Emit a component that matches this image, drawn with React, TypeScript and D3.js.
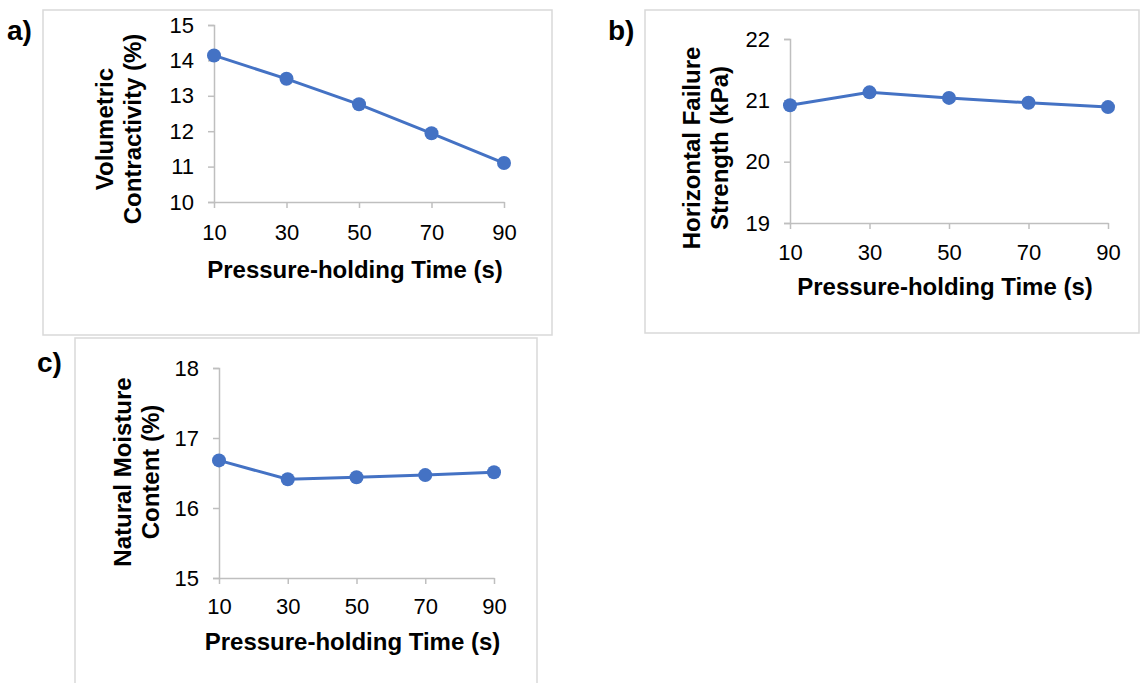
import React, { useRef, useEffect } from 'react'
import * as d3 from 'd3'

// Pressure-holding time categories (s)
const times = [10, 30, 50, 70, 90]

// Series
const contractivity = [14.14, 13.48, 12.76, 11.94, 11.1]
const failureStrength = [20.92, 21.13, 21.04, 20.96, 20.89]
const moistureContent = [16.68, 16.41, 16.44, 16.47, 16.51]

// Y tick labels for each panel
const contractivityTicks = [10, 11, 12, 13, 14, 15]
const failureTicks = [19, 20, 21, 22]
const moistureTicks = [15, 16, 17, 18]

const xTitle = 'Pressure-holding Time (s)'

const panels = [
    {
        tag: 'a)',
        values: contractivity,
        ticks: contractivityTicks,
        yTitle: ['Volumetric', 'Contractivity (%)'],
        border: { x: 43, y: 10, w: 509, h: 325 },
        plot: { x0: 214, x1: 504, y0: 25, y1: 202 },
        tagPos: { x: 7, y: 40 },
        yTitlePos: { x: 105, y: 129 },
        xTitleY: 278,
        tickY: 240,
    },
    {
        tag: 'b)',
        values: failureStrength,
        ticks: failureTicks,
        yTitle: ['Horizontal Failure', 'Strength (kPa)'],
        border: { x: 645, y: 10, w: 494, h: 323 },
        plot: { x0: 790, x1: 1108, y0: 39, y1: 223 },
        tagPos: { x: 608, y: 40 },
        yTitlePos: { x: 692, y: 148 },
        xTitleY: 295,
        tickY: 260,
    },
    {
        tag: 'c)',
        values: moistureContent,
        ticks: moistureTicks,
        yTitle: ['Natural Moisture', 'Content (%)'],
        border: { x: 75, y: 338, w: 462, h: 360 },
        plot: { x0: 219, x1: 494, y0: 368, y1: 578 },
        tagPos: { x: 37, y: 372 },
        yTitlePos: { x: 123, y: 472 },
        xTitleY: 650,
        tickY: 614,
    },
]

const FONT = '"Liberation Sans", Arial, sans-serif'
const BLUE = '#4472C4'
const AXIS = '#BFBFBF'

function App() {
    const ref = useRef<SVGSVGElement>(null)

    useEffect(() => {
        const svg = d3.select(ref.current)
        svg.selectAll('*').remove()

        panels.forEach(p => {
            const g = svg.append('g')

            // Panel frame
            g.append('rect')
                .attr('x', p.border.x)
                .attr('y', p.border.y)
                .attr('width', p.border.w)
                .attr('height', p.border.h)
                .attr('fill', 'none')
                .attr('stroke', '#D9D9D9')
                .attr('stroke-width', 1.5)

            const x = d3.scalePoint<number>().domain(times).range([p.plot.x0, p.plot.x1])
            const y = d3
                .scaleLinear()
                .domain([d3.min(p.ticks)!, d3.max(p.ticks)!])
                .range([p.plot.y1, p.plot.y0])

            // Y axis
            const yAxis = g.append('g')
                .attr('transform', `translate(${p.plot.x0},0)`)
                .call(d3.axisLeft(y).tickValues(p.ticks).tickSize(6).tickFormat(d3.format('d')))
            yAxis.select('.domain').attr('stroke', AXIS).attr('stroke-width', 1.5)
            yAxis.selectAll('.tick line').attr('stroke', AXIS).attr('stroke-width', 1.5)
            yAxis.selectAll('.tick text')
                .attr('x', -20)
                .attr('font-family', FONT)
                .attr('font-size', 22)
                .attr('fill', '#000')

            // X axis (category ticks point down)
            const xAxis = g.append('g')
                .attr('transform', `translate(0,${p.plot.y1})`)
                .call(d3.axisBottom(x).tickSize(6).tickSizeOuter(0))
            xAxis.select('.domain').attr('stroke', AXIS).attr('stroke-width', 1.5)
            xAxis.selectAll('.tick line').attr('stroke', AXIS).attr('stroke-width', 1.5)
            xAxis.selectAll('.tick text')
                .attr('y', p.tickY - p.plot.y1)
                .attr('dy', 0)
                .attr('font-family', FONT)
                .attr('font-size', 22)
                .attr('fill', '#000')

            // Series line
            const line = d3.line<number>()
                .x((d, i) => x(times[i])!)
                .y(d => y(d))
            g.append('path')
                .datum(p.values)
                .attr('d', line)
                .attr('fill', 'none')
                .attr('stroke', BLUE)
                .attr('stroke-width', 3)

            g.selectAll('circle.pt')
                .data(p.values)
                .join('circle')
                .attr('class', 'pt')
                .attr('cx', (d, i) => x(times[i])!)
                .attr('cy', d => y(d))
                .attr('r', 7)
                .attr('fill', BLUE)

            // X title
            g.append('text')
                .attr('x', (p.plot.x0 + p.plot.x1) / 2 - 4)
                .attr('y', p.xTitleY)
                .attr('text-anchor', 'middle')
                .attr('font-family', FONT)
                .attr('font-size', 24)
                .attr('font-weight', 'bold')
                .text(xTitle)

            // Y title, two lines rotated
            const yt = g.append('text')
                .attr('transform', `translate(${p.yTitlePos.x},${p.yTitlePos.y}) rotate(-90)`)
                .attr('text-anchor', 'middle')
                .attr('font-family', FONT)
                .attr('font-size', 24)
                .attr('font-weight', 'bold')
            p.yTitle.forEach((t, i) => {
                yt.append('tspan')
                    .attr('x', 0)
                    .attr('y', i * 28 + 8)
                    .text(t)
            })

            // Panel tag
            g.append('text')
                .attr('x', p.tagPos.x)
                .attr('y', p.tagPos.y)
                .attr('font-family', FONT)
                .attr('font-size', 28)
                .attr('font-weight', 'bold')
                .text(p.tag)
        })
    }, [])

    return (
        <svg
            ref={ref}
            width={1141}
            height={683}
            style={{ position: 'absolute', left: 0, top: 0, background: '#fff' }}
        />
    )
}

export default App
